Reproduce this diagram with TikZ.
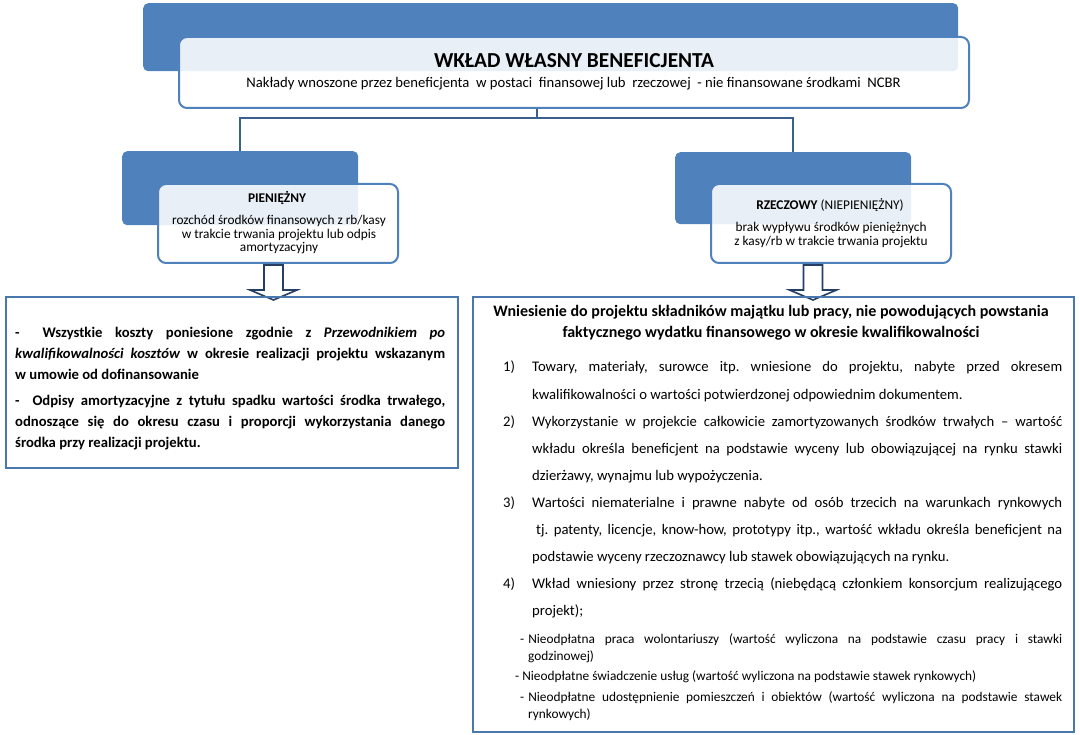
\documentclass[tikz,border=0pt]{standalone}
\usepackage{fontspec}
\setmainfont{Carlito}
\usetikzlibrary{positioning, calc}
\definecolor{blue1}{RGB}{79,129,189}
\definecolor{navy1}{RGB}{60,96,142}
\definecolor{navy2}{RGB}{36,62,100}
\frenchspacing

\newcommand{\numitem}[1]{\noindent\hangindent=29pt\hangafter=1\makebox[29pt][l]{#1}}

\tikzset{
  backbox/.style={fill=blue1, rounded corners=5pt, inner sep=0pt, anchor=north west},
  frontbox/.style={draw=blue1, line width=2pt, fill=white, fill opacity=0.88, rounded corners=8pt, inner sep=0pt, anchor=north west},
  listbox/.style={draw=blue1!92!black, line width=1.8pt, inner sep=0pt, anchor=north west},
  conn/.style={draw=navy1, line width=2.5pt},
  txt/.style={inner sep=0pt, text=black},
  pics/blockarrow/.style={code={
    \draw[navy2, line width=1.6pt, fill=white, line join=miter]
      (-9.5,0) -- (-9.5,25) -- (-23.5,25) -- (0,35) -- (23.5,25) -- (9.5,25) -- (9.5,0) -- cycle;}}
}

\begin{document}
\begin{tikzpicture}[x=1pt, y=-1pt]
  \useasboundingbox (0,0) rectangle (1080,735);

  % naglowek
  \node[backbox, minimum width=815pt, minimum height=68pt] (topback) at (143,3) {};
  \node[frontbox, minimum width=790pt, minimum height=71pt] (top) at (178,36) {};
  \node[txt, anchor=base, font=\bfseries\fontsize{21.33}{24}\selectfont] (title) at (574,67.5) {WKŁAD WŁASNY BENEFICJENTA};
  \node[txt, anchor=base, font=\fontsize{14.67}{17}\selectfont] (subtitle) at (573.5,87.5)
    {Nakłady wnoszone przez beneficjenta \ w postaci \ finansowej lub \ rzeczowej \ - nie finansowane środkami \ NCBR};

  % dwie galezie
  \node[backbox, minimum width=236pt, minimum height=74pt] (pienback) at (122,151) {};
  \node[frontbox, minimum width=240pt, minimum height=79pt] (pien) at (157,183) {};
  \node[backbox, minimum width=236pt, minimum height=72pt] (rzeczback) at (675,152) {};
  \node[frontbox, minimum width=240pt, minimum height=79pt] (rzecz) at (710,183) {};

  \coordinate (hub) at (537,118);
  \draw[conn] (top.south -| hub) -- (hub);
  \draw[conn] (pienback.north) |- (hub) -| (rzeczback.north);

  \node[txt, anchor=base, font=\bfseries\fontsize{13.33}{15}\selectfont] (pienlabel) at (277,202.5) {PIENIĘŻNY};
  \node[txt, anchor=base, align=center, font=\fontsize{13.33}{13.5}\selectfont] (pientext) at (279,252)
    {rozchód środków finansowych z rb/kasy\\ w trakcie trwania projektu lub odpis\\ amortyzacyjny};
  \node[txt, anchor=base, font=\fontsize{13.33}{15}\selectfont] (rzeczlabel) at (830,210) {\textbf{RZECZOWY} (NIEPIENIĘŻNY)};
  \node[txt, anchor=base, align=center, font=\fontsize{13.33}{14}\selectfont] (rzecztext) at (831,246)
    {brak wypływu środków pieniężnych\\ z kasy/rb w trakcie trwania projektu};

  \pic at ($(pien.south)+(-4.5,1)$) {blockarrow};
  \pic at ($(rzecz.south)+(-18,1)$) {blockarrow};

  % ramki z opisem
  \node[listbox, minimum width=452pt, minimum height=171pt] (pienlist) at (5,296) {};
  \node[listbox, minimum width=601pt, minimum height=435pt] (rzeczlist) at (472,296) {};

  \node[txt, anchor=base west, text width=430pt, align=justify, font=\bfseries\fontsize{14.67}{21}\selectfont] (pienitems) at (15,338)
    {\setlength{\parskip}{5pt}%
     -\hspace{0.7em} Wszystkie koszty poniesione zgodnie z \textit{Przewodnikiem po}\linebreak
     \textit{kwalifikowalności kosztów} w okresie realizacji projektu wskazanym\linebreak
     w umowie od dofinansowanie\par
     - \ Odpisy amortyzacyjne z tytułu spadku wartości środka trwałego,\linebreak
     odnoszące się do okresu czasu i proporcji wykorzystania danego\linebreak
     środka przy realizacji projektu.\par};

  \node[txt, anchor=base, align=center, font=\bfseries\fontsize{16}{21}\selectfont] (rzeczhead) at (771,338)
    {Wniesienie do projektu składników majątku lub pracy, nie powodujących powstania\\
     faktycznego wydatku finansowego w okresie kwalifikowalności};

  \node[txt, anchor=base west, text width=559pt, align=justify, font=\fontsize{14.67}{27.1}\selectfont] (rzeczitems) at (503,372)
    {\numitem{1)}Towary, materiały, surowce itp. wniesione do projektu, nabyte przed okresem\linebreak
     kwalifikowalności o wartości potwierdzonej odpowiednim dokumentem.\par
     \numitem{2)}Wykorzystanie w projekcie całkowicie zamortyzowanych środków trwałych – wartość\linebreak
     wkładu określa beneficjent na podstawie wyceny lub obowiązującej na rynku stawki\linebreak
     dzierżawy, wynajmu lub wypożyczenia.\par
     \numitem{3)}Wartości niematerialne i prawne nabyte od osób trzecich na warunkach rynkowych\linebreak
     \hspace*{4pt}tj. patenty, licencje, know-how, prototypy itp., wartość wkładu określa beneficjent na\linebreak
     podstawie wyceny rzeczoznawcy lub stawek obowiązujących na rynku.\par
     \numitem{4)}Wkład wniesiony przez stronę trzecią (niebędącą członkiem konsorcjum realizującego\linebreak
     projekt);\par};

  \node[txt, anchor=base west, text width=547pt, align=justify, font=\fontsize{13.33}{17}\selectfont] (rzeczsub) at (515,643)
    {\setlength{\parskip}{3.5pt}%
     \noindent\hangindent=13pt\hspace*{5pt}-\hspace{4pt}Nieodpłatna praca wolontariuszy (wartość wyliczona na podstawie czasu pracy i stawki\linebreak
     godzinowej)\par
     \noindent - Nieodpłatne świadczenie usług (wartość wyliczona na podstawie stawek rynkowych)\par
     \noindent\hangindent=13pt\hspace*{5pt}-\hspace{4pt}Nieodpłatne udostępnienie pomieszczeń i obiektów (wartość wyliczona na podstawie stawek\linebreak
     rynkowych)\par};
\end{tikzpicture}
\end{document}
